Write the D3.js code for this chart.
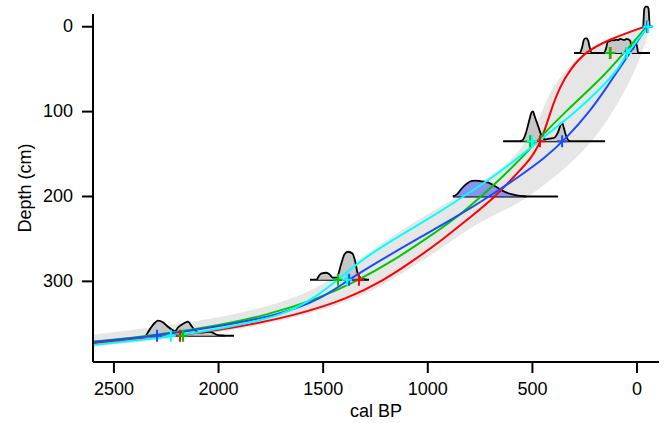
<!DOCTYPE html>
<html>
<head>
<meta charset="utf-8">
<script src="https://cdn.jsdelivr.net/npm/d3@7"></script>
<style>
body { margin: 0; background: #fff; }
svg text { font-family: "Liberation Sans", Arial, sans-serif; fill: #000; }
</style>
</head>
<body>
<svg id="chart" width="665" height="423"></svg>
<script>
// age-depth models, ages (cal BP) read at these depths (cm)
const modelDepths = [0, 15, 30, 50, 70, 100, 130, 155, 175, 200, 225, 250, 275, 300, 320, 340, 355, 365, 375];
const redAges   = [-35, 135, 250, 318, 368, 414, 450, 503, 583, 675, 800, 925, 1065, 1218, 1380, 1630, 1925, 2220, 2700];
const greenAges = [-45, 5, 60, 130, 210, 342, 462, 553, 635, 745, 862, 1009, 1161, 1340, 1521, 1766, 2064, 2346, 2750];
const blueAges  = [-48, -8, 32, 87, 141, 226, 333, 441, 555, 705, 870, 1050, 1225, 1391, 1505, 1710, 2043, 2316, 2750];
const cyanAges  = [-53, -5, 45, 90, 162, 290, 445, 572, 675, 830, 986, 1161, 1318, 1440, 1545, 1690, 1965, 2215, 2600];

// grey envelope
const envDepths = [0, 15, 30, 60, 85, 110, 135, 160, 190, 210, 230, 260, 295, 320, 345, 363, 377];
const envOld    = [-45, 140, 260, 375, 432, 470, 528, 605, 785, 925, 1065, 1250, 1445, 1615, 2000, 2600, 3100];
const envYoung  = [-62, -45, -25, 25, 80, 140, 215, 310, 460, 575, 760, 925, 1150, 1325, 1650, 2050, 2600];

// dated levels
const dateDepths = [0, 31, 135, 200, 298, 364];
const dateFrom   = [-30, 301, 640, 880, 1563, 2338];
const dateTo     = [-65, -62, 153, 378, 1281, 1926];
const dateFill   = ["grey", "grey", "grey", "blue", "grey", "grey"];
const calAges = [
  [-30, -35, -42, -50, -55, -60],
  [272, 262, 255, 248, 240, 233, 225, 217, 160, 148, 140, 130, 120, 110, 100, 90, 80, 70, 60, 50, 40, 32, 25, 15, 10, 3, -5],
  [560, 545, 530, 515, 505, 497, 490, 480, 470, 460, 450, 440, 425, 410, 395, 385, 375, 365, 358, 350, 340, 330, 320],
  [880, 860, 840, 815, 790, 770, 740, 710, 680, 650, 620, 590, 560, 530],
  [1530, 1510, 1485, 1470, 1455, 1435, 1415, 1398, 1382, 1360, 1345, 1335, 1315, 1290],
  [2347, 2304, 2290, 2266, 2242, 2223, 2208, 2194, 2175, 2161, 2146, 2127, 2103, 2075, 2041, 2008, 1970]
];
const calDens = [
  [0, 0.6, 0.67, 0.67, 0.6, 0],
  [0, 0.2, 0.42, 0.49, 0.49, 0.4, 0.15, 0, 0, 0.15, 0.38, 0.4, 0.43, 0.42, 0.45, 0.43, 0.47, 0.45, 0.44, 0.47, 0.45, 0.4, 0.12, 0.2, 0.35, 0.3, 0],
  [0, 0.05, 0.3, 0.7, 0.95, 1.0, 0.85, 0.65, 0.45, 0.25, 0.12, 0.06, 0.08, 0.1, 0.12, 0.2, 0.35, 0.55, 0.62, 0.45, 0.2, 0.05, 0],
  [0, 0.08, 0.25, 0.42, 0.52, 0.53, 0.5, 0.46, 0.35, 0.22, 0.12, 0.06, 0.02, 0],
  [0, 0.2, 0.23, 0.18, 0.07, 0.07, 0.5, 0.85, 0.93, 0.87, 0.55, 0.2, 0.03, 0],
  [0, 0.43, 0.5, 0.45, 0.3, 0.2, 0.15, 0.27, 0.37, 0.43, 0.47, 0.3, 0.13, 0.1, 0.13, 0.03, 0]
];

// point estimates per dated level, one array per model colour
const crossRed   = [-50, 127, 464, null, 1329, 2184];
const crossGreen = [-50, 130, 511, null, 1429, 2170];
const crossBlue  = [-48, 50, 358, null, 1376, 2294];
const crossCyan  = [-53, 48, 502, null, 1386, 2228];

const xTicks = [2500, 2000, 1500, 1000, 500, 0];
const yTicks = [0, 100, 200, 300];

const models = [
  { color: "#ff0000", ages: redAges, cross: crossRed },
  { color: "#00c800", ages: greenAges, cross: crossGreen },
  { color: "#1a4cff", ages: blueAges, cross: crossBlue },
  { color: "#00ffff", ages: cyanAges, cross: crossCyan }
];

const svg = d3.select("#chart");

const x = d3.scaleLinear().domain([2600, -105]).range([93, 659]);
const y = d3.scaleLinear().domain([-15, 395]).range([14, 362]);
const h = d3.scaleLinear().domain([0, 1]).range([0, 30]);

svg.append("defs").append("clipPath").attr("id", "plot")
  .append("rect").attr("x", 93).attr("y", 0).attr("width", 572).attr("height", 362);

const plot = svg.append("g").attr("clip-path", "url(#plot)");

// envelope
const env = envDepths.map((d, i) => ({ depth: d, old: envOld[i], young: envYoung[i] }));
plot.append("path")
  .datum(env)
  .attr("fill", "#e6e6e6")
  .attr("d", d3.area()
    .y(d => y(d.depth))
    .x0(d => x(d.young))
    .x1(d => x(d.old))
    .curve(d3.curveBasis));

// calibrated distributions
dateDepths.forEach((depth, i) => {
  const pts = calAges[i].map((a, j) => ({ age: a, dens: calDens[i][j] }));
  const base = y(depth);
  plot.append("line")
    .attr("x1", x(dateFrom[i])).attr("x2", x(dateTo[i]))
    .attr("y1", base).attr("y2", base)
    .attr("stroke", "#000").attr("stroke-width", 2);
  plot.append("path")
    .datum(pts)
    .attr("fill", dateFill[i] === "blue" ? "#8793ee" : "#c6c6c6")
    .attr("d", d3.area().x(d => x(d.age)).y0(base).y1(d => base - h(d.dens)).curve(d3.curveMonotoneX));
  plot.append("path")
    .datum(pts)
    .attr("fill", "none")
    .attr("stroke", "#000")
    .attr("stroke-width", 1.8)
    .attr("stroke-linejoin", "round")
    .attr("d", d3.line().x(d => x(d.age)).y(d => base - h(d.dens)).curve(d3.curveMonotoneX));
});

// model curves
const line = d3.line()
  .x(d => x(d.age))
  .y(d => y(d.depth))
  .curve(d3.curveBasis);

models.forEach(m => {
  const pts = modelDepths.map((d, i) => ({ depth: d, age: m.ages[i] }));
  plot.append("path")
    .datum(pts)
    .attr("fill", "none")
    .attr("stroke", m.color)
    .attr("stroke-width", 2)
    .attr("d", line);
});

// crosses
models.forEach(m => {
  m.cross.forEach((a, i) => {
    if (a === null) return;
    const cx = x(a), cy = y(dateDepths[i]);
    plot.append("path")
      .attr("d", `M${cx - 5},${cy}H${cx + 5}M${cx},${cy - 6}V${cy + 6}`)
      .attr("stroke", m.color)
      .attr("stroke-width", 2)
      .attr("fill", "none");
  });
});

// axes
const xAxis = svg.append("g")
  .attr("transform", "translate(0,362)")
  .call(d3.axisBottom(x).tickValues(xTicks).tickFormat(d3.format("d"))
    .tickSize(11).tickSizeOuter(0).tickPadding(9).offset(0));

const yAxis = svg.append("g")
  .attr("transform", "translate(93,0)")
  .call(d3.axisLeft(y).tickValues(yTicks).tickFormat(d3.format("d"))
    .tickSize(11).tickSizeOuter(0).tickPadding(9).offset(0));

[xAxis, yAxis].forEach(g => {
  g.selectAll("path, line").attr("stroke", "#000").attr("stroke-width", 2);
  g.selectAll("text").attr("font-size", 18).attr("fill", "#000")
    .attr("font-family", "'Liberation Sans', Arial, sans-serif");
});

svg.append("text")
  .attr("x", 376).attr("y", 417)
  .attr("text-anchor", "middle")
  .attr("font-size", 18)
  .text("cal BP");

svg.append("text")
  .attr("transform", "translate(31,188) rotate(-90)")
  .attr("text-anchor", "middle")
  .attr("font-size", 18)
  .text("Depth (cm)");
</script>
</body>
</html>
